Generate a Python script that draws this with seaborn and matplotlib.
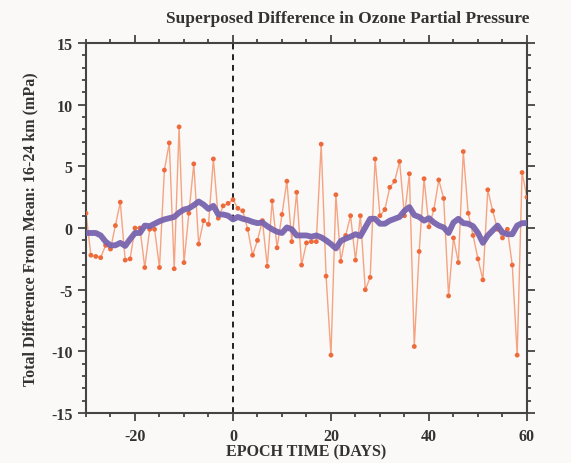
import numpy as np
import pandas as pd
import matplotlib
matplotlib.use("Agg")
import matplotlib.pyplot as plt
import seaborn as sns
from matplotlib.ticker import MultipleLocator

# Epoch days
days = list(range(-30, 61))

# Daily superposed difference (orange)
daily = [
    1.2, -2.2, -2.3, -2.4, -1.4, -1.7, 0.2, 2.1, -2.6, -2.5,      # -30..-21
    0.0, 0.0, -3.2, -0.1, -0.1, -3.2, 4.7, 6.9, -3.3, 8.2,        # -20..-11
    -2.8, 1.2, 5.2, -1.3, 0.6, 0.3, 5.6, 0.8, 1.8, 2.0,           # -10..-1
    2.3, 1.6, 1.4, -0.1, -2.2, -1.0, 0.6, -3.1, 2.2, -1.6,        # 0..9
    1.1, 3.8, -1.1, 2.9, -3.0, -1.2, -1.1, -1.1, 6.8, -3.9,       # 10..19
    -10.3, 2.7, -2.7, -0.6, 1.0, -2.6, 1.0, -5.0, -4.0, 5.6,      # 20..29
    1.0, 1.5, 3.3, 3.8, 5.4, 1.0, 4.4, -9.6, -1.9, 4.0,           # 30..39
    0.1, 1.5, 3.9, 2.4, -5.5, -0.8, -2.8, 6.2, 1.2, -0.6,         # 40..49
    -2.5, -4.2, 3.1, 1.4, -0.1, -0.8, -0.1, -3.0, -10.3, 4.5,     # 50..59
    2.5,                                                          # 60
]

# Smoothed curve (purple)
smooth = [
    -0.4, -0.4, -0.4, -0.6, -1.1, -1.4, -1.4, -1.2, -1.45, -0.9,
    -0.4, -0.4, 0.2, 0.15, 0.35, 0.55, 0.7, 0.8, 0.9, 1.25,
    1.5, 1.6, 1.85, 2.15, 1.9, 1.55, 1.8, 1.1, 1.1, 1.0,
    0.7, 0.9, 0.75, 0.65, 0.5, 0.4, 0.45, 0.15, -0.1, -0.3,
    -0.4, 0.05, -0.1, -0.6, -0.6, -0.6, -0.7, -0.6, -0.75, -1.0,
    -1.3, -1.65, -1.05, -0.85, -0.7, -0.5, -0.65, 0.05, 0.75, 0.75,
    0.35, 0.35, 0.6, 0.75, 0.9, 1.4, 1.7, 1.05, 0.9, 0.6,
    0.8, 0.45, 0.2, 0.05, -0.4, 0.45, 0.75, 0.4, 0.35, 0.15,
    -0.4, -1.2, -0.6, -0.2, 0.2, -0.35, -0.5, -0.5, 0.2, 0.4,
    0.4,
]

df = pd.DataFrame({"day": days, "daily": daily, "smooth": smooth})

sns.set_style("ticks")
plt.rcParams["font.family"] = ["Liberation Serif", "DejaVu Serif"]
plt.rcParams["font.weight"] = "bold"
plt.rcParams["axes.unicode_minus"] = False
bg = "#FAF9F7"
txt = "#333333"

fig = plt.figure(figsize=(5.71, 4.64), dpi=100, facecolor=bg)
ax = fig.add_axes([0.1506, 0.1075, 0.7723, 0.7977], facecolor=bg)

# daily series: thin light line + dots
sns.lineplot(data=df, x="day", y="daily", ax=ax, color="#F3875C", lw=1.0, alpha=0.75)
sns.scatterplot(data=df, x="day", y="daily", ax=ax, color="#EE6A3A", s=12,
                edgecolor="none", zorder=3)
# smoothed curve
sns.lineplot(data=df, x="day", y="smooth", ax=ax, color="#7763AE", lw=4.2,
             alpha=0.95, zorder=4)

ax.axvline(0, color="#222222", ls=(0, (3, 2.5)), lw=1.4, zorder=2)

ax.set_xlim(-30, 60)
ax.set_ylim(-15, 15)
ax.xaxis.set_major_locator(MultipleLocator(20))
ax.xaxis.set_minor_locator(MultipleLocator(5))
ax.yaxis.set_major_locator(MultipleLocator(5))
ax.yaxis.set_minor_locator(MultipleLocator(1))
ax.tick_params(which="both", direction="out", top=True, right=True,
               colors="#444444", labelcolor=txt, labelsize=11.5, width=1.3)
ax.tick_params(which="major", length=5.5)
ax.tick_params(which="minor", length=3)
ax.tick_params(axis="x", which="major", pad=5)
ax.tick_params(axis="y", which="major", pad=4)
for lab in ax.get_xticklabels() + ax.get_yticklabels():
    lab.set_fontweight("bold")
for s in ax.spines.values():
    s.set_color("#444444")
    s.set_linewidth(1.5)

ax.set_xlabel("EPOCH TIME (DAYS)", fontsize=11.5, fontweight="bold", color=txt, labelpad=0)
ax.set_ylabel("Total Difference From Mean: 16-24 km (mPa)", fontsize=11.5,
              fontweight="bold", color=txt, labelpad=9)
fig.text(0.928, 0.958, "Superposed Difference in Ozone Partial Pressure",
         ha="right", va="center", fontsize=12.5, fontweight="bold", color=txt)

fig.savefig("out.png", dpi=100, facecolor=bg)
